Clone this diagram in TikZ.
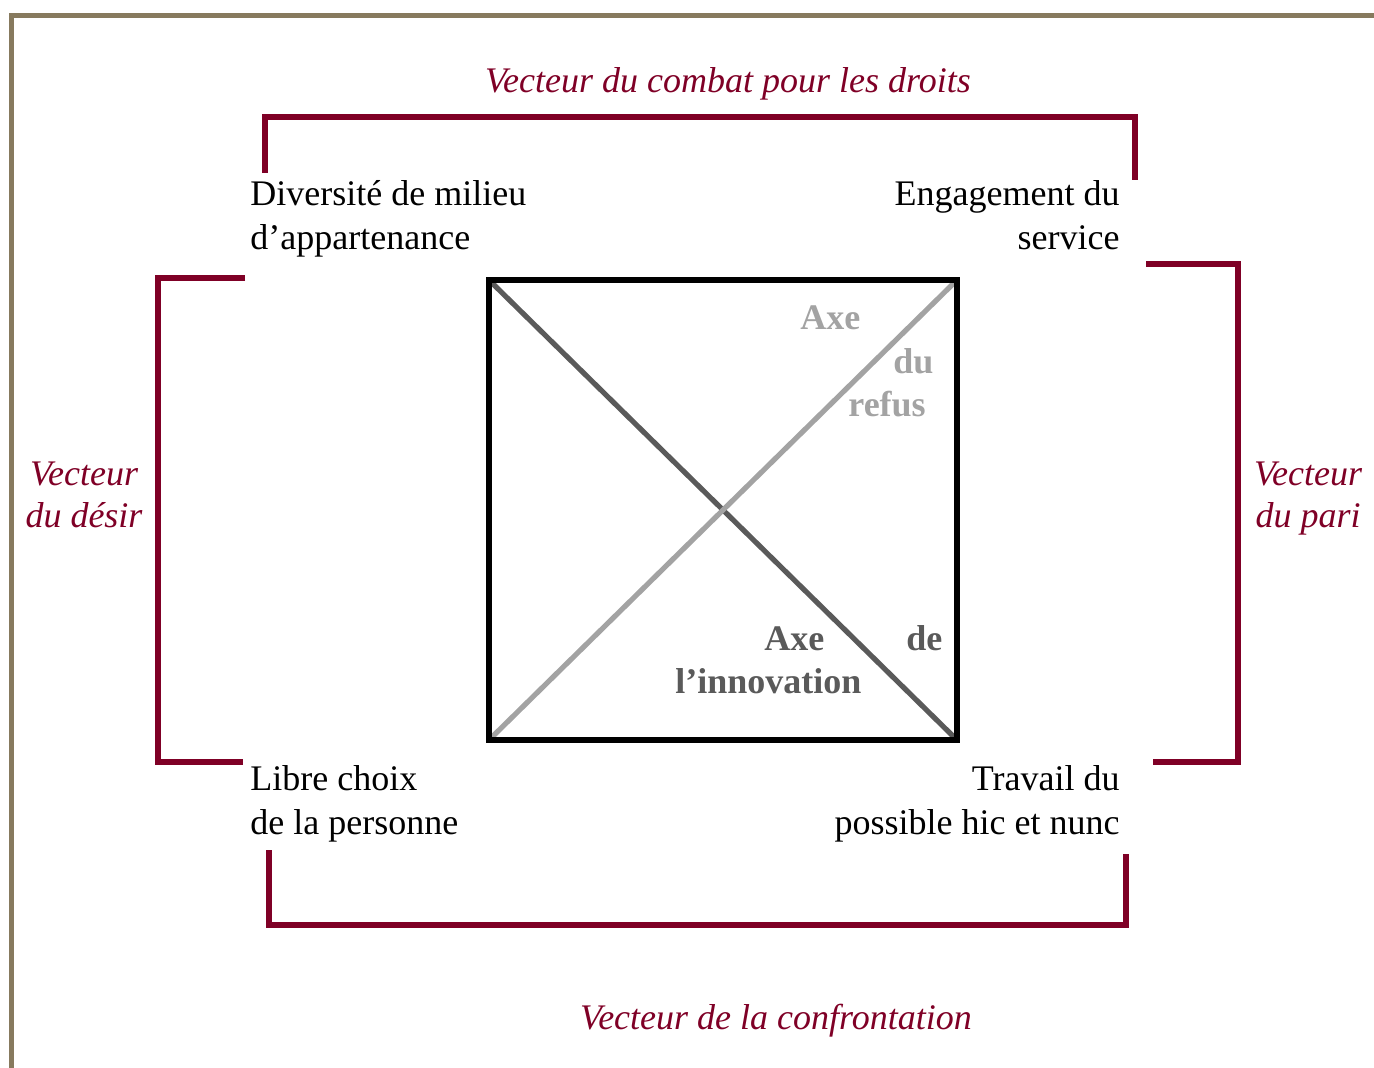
\documentclass[tikz,border=0pt]{standalone}
\usepackage{fontspec}
\setmainfont{Liberation Serif}
\definecolor{vecteur}{HTML}{7F0026}
\definecolor{cadre}{HTML}{877A5E}
\definecolor{innov}{HTML}{5A5A5A}
\definecolor{refus}{HTML}{A3A3A3}
\tikzset{>=latex}

\begin{document}
\begin{tikzpicture}[x=0.5pt,y=-0.5pt,
    every node/.style={inner sep=0pt,font=\fontsize{18}{22}\selectfont},
    bracket/.style={draw=vecteur,line width=3.3pt},
    vec/.style={text=vecteur,font=\fontsize{18}{21}\selectfont\itshape,align=center},
    axe/.style={font=\fontsize{18}{22}\selectfont\bfseries,anchor=base west}]
            \draw[draw=none,use as bounding box] (0,0) rectangle (1374,1068);
            \draw[cadre,line width=2.5pt] (11.5,1068) |- (1374,16);
            % le carre et ses deux axes
            \coordinate (nw) at (489,280);
            \coordinate (ne) at (957,280);
            \coordinate (sw) at (489,740);
            \coordinate (se) at (957,740);
            \draw[innov,line width=2.6pt] (nw) -- (se);
            \draw[refus,line width=2.6pt] (sw) -- (ne);
            \draw[line width=3.2pt] (nw) rectangle (se);
            % les quatre poles (base = derniere ligne)
            \node[anchor=base west,align=left] (divers) at (250,250) {Diversité de milieu\\d’appartenance};
            \node[anchor=base east,align=right] (engag) at (1120,250) {Engagement du\\service};
            \node[anchor=base west,align=left] (libre) at (250,834) {Libre choix\\de la personne};
            \node[anchor=base east,align=right] (travail) at (1120,834) {Travail du\\possible hic et nunc};
            % les vecteurs
            \draw[bracket] (265,173) |- (1135,117) -- (1135,180);
            \draw[bracket] (245,278) -| (158,762) -- (243,762);
            \draw[bracket] (269,850) |- (1126,925) -- (1126,854);
            \draw[bracket] (1146,264) -| (1238,762) -- (1153,762);
            \node[vec,anchor=base] (combat) at (728,93) {Vecteur du combat pour les droits};
            \node[vec,anchor=base] (confront) at (776,1029) {Vecteur de la confrontation};
            \node[vec,anchor=base] (desir) at (84,528) {Vecteur\\du désir};
            \node[vec,anchor=base] (pari) at (1308,528) {Vecteur\\du pari};
            % les noms des axes
            \node[axe,text=refus] (refus1) at (800,330) {Axe};
            \node[axe,text=refus] (refus2) at (893,374) {du};
            \node[axe,text=refus] (refus3) at (848,417) {refus};
            \node[axe,text=innov] (innov1) at (764,650) {Axe};
            \node[axe,text=innov] (innov2) at (906,650) {de};
            \node[axe,text=innov] (innov3) at (675,693) {l’innovation};
        \end{tikzpicture}
\end{document}
